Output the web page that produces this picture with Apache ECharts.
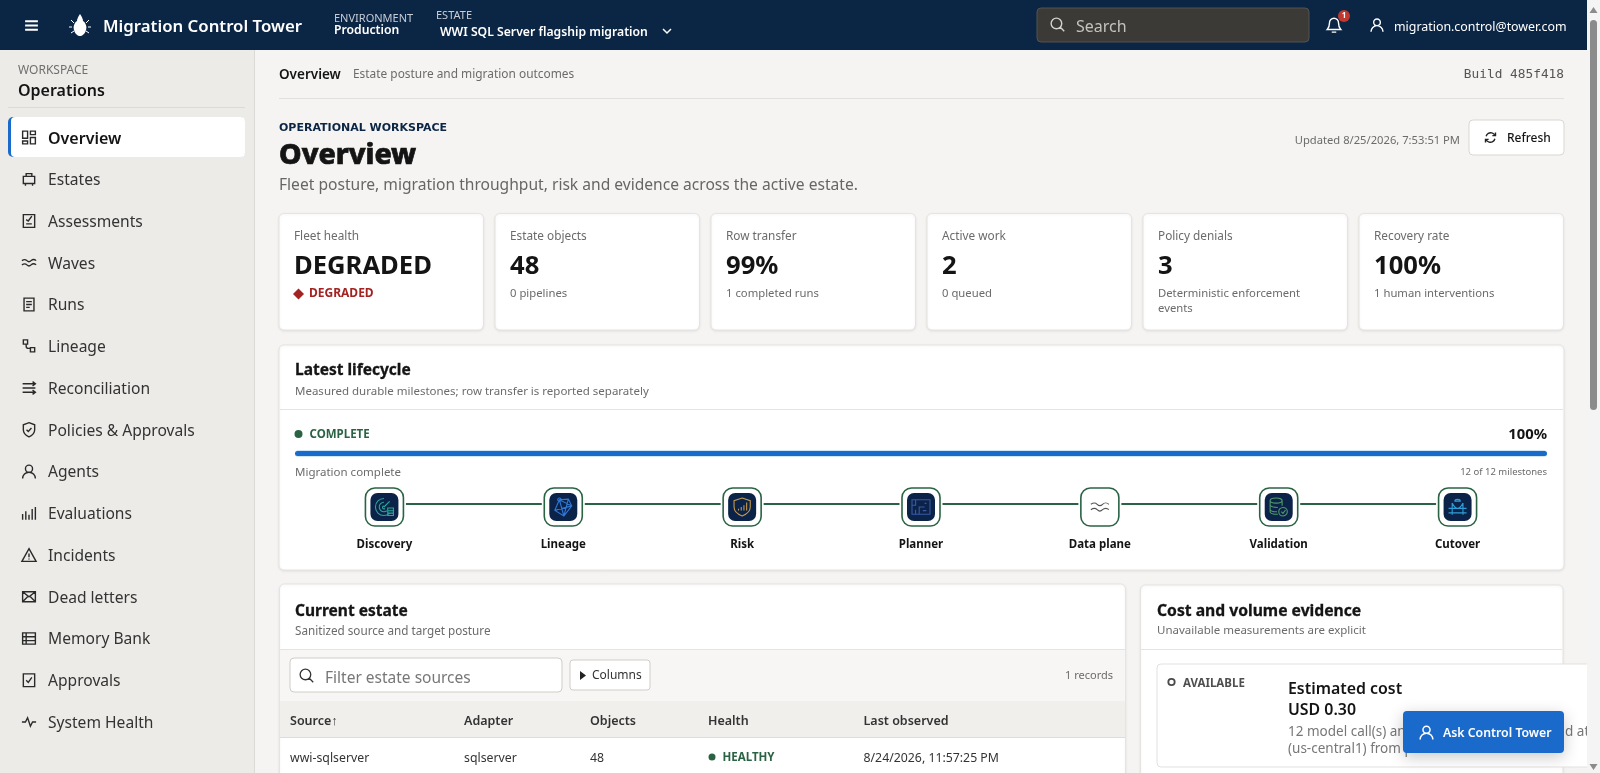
<!DOCTYPE html>
<html>
<head>
<meta charset="utf-8">
<title>Migration Control Tower</title>
<style>
html,body{margin:0;padding:0;background:#f5f4f2;overflow:hidden}
#main{width:1600px;height:773px}
</style>
<script src="https://cdn.jsdelivr.net/npm/echarts@6/dist/echarts.min.js"></script>
</head>
<body>
<div id="main"></div>
<script>
// data
var navItems = ['Overview','Estates','Assessments','Waves','Runs','Lineage','Reconciliation','Policies & Approvals','Agents','Evaluations','Incidents','Dead letters','Memory Bank','Approvals','System Health'];
var kpiLabels = ['Fleet health','Estate objects','Row transfer','Active work','Policy denials','Recovery rate'];
var kpiValues = ['DEGRADED','48','99%','2','3','100%'];
var kpiNotes = ['DEGRADED','0 pipelines','1 completed runs','0 queued','Deterministic enforcement|events','1 human interventions'];
var milestones = ['Discovery','Lineage','Risk','Planner','Data plane','Validation','Cutover'];
var milestoneReached = [1,1,1,1,1,1,1];
var progressPercent = [100];
var tableColumns = ['Source\u2191','Adapter','Objects','Health','Last observed'];
var tableRow = ['wwi-sqlserver','sqlserver','48','HEALTHY','8/24/2026, 11:57:25 PM'];

var FONT = '"Noto Sans"';
var NAVY = '#0b2545', BLUE = '#1a6acb', GREEN = '#2a6344', INK = '#141414', GREY = '#6b6b6b';

// stroke icons, 24 unit box
var icons = {
  menu:'M3 6h18M3 12h18M3 18h18',
  search:'M10.5 3a7.5 7.5 0 1 0 0 15a7.5 7.5 0 1 0 0-15zM16 16l5.5 5.5',
  bell:'M12 3a6 6 0 0 0-6 6c0 6-2 8-3 9h18c-1-1-3-3-3-9a6 6 0 0 0-6-6zM9 21.5h6',
  person:'M12 3a5 5 0 1 0 0 10a5 5 0 1 0 0-10zM3 22c0-5 4-9 9-9s9 4 9 9',
  refresh:'M5 10a7.5 7.5 0 0 1 13-3l2 2M19 14a7.5 7.5 0 0 1-13 3l-2-2M20 4v5h-5M4 20v-5h5',
  Overview:'M3 3h7v10H3zM14 3h7v5h-7zM14 12h7v9h-7zM3 17h7v4H3z',
  Estates:'M4 8h16v10H4zM8 8V4h8v4M7 18v3M17 18v3',
  Assessments:'M4 3h16v18H4zM8 10l3 2l5-7M8 16h8',
  Waves:'M2 9c3-2 5-2 7 0s4 2 6 0s5-2 7 0M2 15c3-2 5-2 7 0s4 2 6 0s5-2 7 0',
  Runs:'M5 3h14v18H5zM8 8h8M8 12h8M8 16h5',
  Lineage:'M4 3h6v6H4zM14 14h6v6h-6zM8 9v3a3 3 0 0 0 3 3h3',
  Reconciliation:'M3 6h18M17 3l4 3l-4 3M3 12h18M3 18h18M17 15l4 3l-4 3',
  'Policies & Approvals':'M12 2l8 3v7c0 5-3.5 8-8 10c-4.5-2-8-5-8-10V5zM8.5 12l2.5 2.5l4.5-5',
  Agents:'M12 3a5 5 0 1 0 0 10a5 5 0 1 0 0-10zM3 22c0-5 4-9 9-9s9 4 9 9',
  Evaluations:'M3 13v8M7.5 9v12M12 14v7M16.5 6v15M21 3v18',
  Incidents:'M12 3L22 21H2zM12 10v5M12 17v1.5',
  'Dead letters':'M3 5h18v14H3zM3 5l9 7l9-7M3 19l7-7M21 19l-7-7',
  'Memory Bank':'M3 4h18v16H3zM3 9.5h18M3 15h18M8 4v16',
  Approvals:'M4 3h16v18H4zM8 12l3 3l5-7',
  'System Health':'M2 12h5l3-6l4 12l3-6h5'
};
var milestoneIcons = [
  {c:'#2aa79b',p:'M12 3a9 9 0 1 0 6 15.7M12 7a5 5 0 1 0 3 9M12 11a1.5 1.5 0 1 0 1 2.6M12 12L18 6M16 13h6v8h-6zM16 16h6M16 18.5h6'},
  {c:'#2f78d6',p:'M9 4a1.5 1.5 0 1 0 .1 0zM17 5L9 5.5L5 15L13 20L20 11zM9 5.5L13 20M5 15L20 11M9 5.5L20 11M17 5L13 20'},
  {c:'#c49a4c',p:'M12 2l9 3v7c0 5-4 8-9 10c-5-2-9-5-9-10V5zM8 16v-2M11 16v-4M14 16v-6M17 16v-9'},
  {c:'#3a5aa5',p:'M2 4h20v16H2zM6 4v6H2M10 20v-8h6M16 8h2M6 15v5M14 16h4'},
  {c:'#555555',p:'M2 9c3-2 5-2 7 0s4 2 6 0s5-2 7 0M2 15c3-2 5-2 7 0s4 2 6 0s5-2 7 0'},
  {c:'#4f9a6a',p:'M3 5c0-4 14-4 14 0s-14 4-14 0zM3 5v13c0 3 6 3 9 3M17 5v6M3 10c0 2.5 6 3 9 3M3 15c0 2.5 5 3 8 3M18 13a5 5 0 1 0 .1 0zM16 18l2 2l3-4'},
  {c:'#2f9ed6',p:'M2 14h20M2 19h20M6 8v13M18 8v13M6 8c2 4 4 6 6 6s4-2 6-6M12 4c-2 0-3 1-3 2h6c0-1-1-2-3-2z'}
];

// graphic helpers
var g = [];
var shapeCount = 0;
function rect(x,y,w,h,fill,r,extra){
  var style = {fill:fill};
  for (var k in (extra||{})) style[k] = extra[k];
  g.push({type:'rect',silent:true,shape:{x:x,y:y,width:w,height:h,r:r||0},style:style});
}
function text(x,y,s,font,fill,align,family,heavy){
  var style = {x:x,y:y,text:s,font:font+' '+(family||FONT),fill:fill,textAlign:align||'left',textVerticalAlign:'middle'};
  if (heavy) { style.stroke = fill; style.lineWidth = heavy; }
  g.push({type:'text',silent:true,style:style});
}
// the graphic component has no plain path type, so each svg path gets registered as a shape
function path(d,style,x,y,sc){
  var name = 'iconPath' + (shapeCount++);
  echarts.graphic.registerShape(name, echarts.graphic.extendPath(d));
  g.push({type:name,silent:true,x:x||0,y:y||0,scaleX:sc||1,scaleY:sc||1,style:style});
}
function icon(name,x,y,size,color,lw){
  var sc = size/24;
  path(icons[name],{fill:'none',stroke:color,lineWidth:(lw||1.5)/sc},x,y,sc);
}
function card(x,y,w,h){
  rect(x,y,w,h,'#ffffff',5,{stroke:'#e6e4e1',lineWidth:1,shadowBlur:3,shadowColor:'rgba(0,0,0,0.07)',shadowOffsetY:1});
}

// page frame
rect(0,0,1600,773,'#f5f4f2');
rect(0,50,254,723,'#edebe8');
rect(254,50,1,723,'#dcdad6');
rect(0,0,1587,50,NAVY);

// top bar
icon('menu',23,17,17,'#ffffff',1.8);
path('M80 14c-2 3-3 5-3 7c-3 2-4 6-3 9c1 4 4 6 6 6s5-2 6-6c1-3 0-7-3-9c0-2-1-4-3-7z',{fill:'#ffffff'});
path('M71 20l3 3M89 20l-3 3M69 27h3M91 27h-3M71 33l3-2M89 33l-3-2',{stroke:'#ffffff',lineWidth:1,fill:'none'});
text(103,27,'Migration Control Tower','600 16.8px','#ffffff');
text(334,19,'ENVIRONMENT','11px','#c6cdd7');
text(334,31,'Production','600 12.2px','#ffffff');
text(436,16,'ESTATE','11px','#c6cdd7');
text(440,33,'WWI SQL Server flagship migration','600 12.2px','#ffffff');
path('M663 29l4 4l4-4',{stroke:'#ffffff',lineWidth:1.5,fill:'none'});
rect(1037,8,272,34,'#3c3a36',4,{stroke:'#55534e',lineWidth:1});
icon('search',1049,16,17,'#d5d3cf',1.4);
text(1076,27,'Search','16px','#c4c2bd');
icon('bell',1325,16,18,'#ffffff',1.4);
g.push({type:'circle',silent:true,shape:{cx:1344,cy:16,r:6},style:{fill:'#c0392f'}});
text(1344,16,'1','bold 8px','#ffffff','center');
icon('person',1369,17,16,'#ffffff',1.4);
text(1394,27,'migration.control@tower.com','12.4px','#ffffff');

// sidebar
text(18,71,'WORKSPACE','12px','#6f6f6f');
text(18,91,'Operations','600 16px',INK);
rect(8,107,237,1,'#dcdad6');
rect(8,117,237,40,BLUE,5);
rect(11,117,234,40,'#ffffff',4);
navItems.forEach(function(name,i){
  var y = 137.5 + i*41.75;
  icon(name,20.5,y-8.5,17,'#2a2a2a',1.4);
  text(48,y+1.5,name,i==0?'600 16px':'400 15.6px',i==0?INK:'#333333');
});

// breadcrumb and page title
text(279,75,'Overview','600 13.5px',INK);
text(353,75,'Estate posture and migration outcomes','11.9px',GREY);
text(1564,75,'Build 485f418','12.8px','#555555','right','"DejaVu Sans Mono"');
rect(279,98,1285,1,'#e2e0dd');
text(279,128,'OPERATIONAL WORKSPACE','bold 11px',NAVY,'left','"DejaVu Sans"');
text(279,156,'Overview','800 28.5px',INK,'left',FONT,0.7);
text(279,186,'Fleet posture, migration throughput, risk and evidence across the active estate.','15.6px','#666666');
text(1460,141,'Updated 8/25/2026, 7:53:51 PM','11.2px',GREY,'right');
rect(1469,120,95,35,'#ffffff',4,{stroke:'#d9d7d3',lineWidth:1});
icon('refresh',1483,130,15,'#222222',1.4);
text(1507,139,'Refresh','500 12px',INK);

// kpi cards
kpiLabels.forEach(function(label,i){
  var x = 279 + i*216;
  card(x,213.5,204.5,116.5);
  text(x+15,237,label,'11.8px',GREY);
  text(x+15,267,kpiValues[i],'bold 25.6px',INK);
  if (i==0) {
    path('M298.5 288.5l5.5 5.5l-5.5 5.5l-5.5-5.5z',{fill:'#a32323'});
    text(309,294,kpiNotes[i],'bold 12px','#a32323');
  } else {
    kpiNotes[i].split('|').forEach(function(line,j){
      text(x+15,294+j*15,line,'11.3px',GREY);
    });
  }
});

// lifecycle card
card(279,345,1285,225);
text(295,370.5,'Latest lifecycle','bold 15.5px',INK,'left',FONT,0.3);
text(295,392,'Measured durable milestones; row transfer is reported separately','11.5px',GREY);
rect(280,409,1283,1,'#e6e4e1');
g.push({type:'circle',silent:true,shape:{cx:298.5,cy:434,r:4},style:{fill:GREEN}});
text(309.5,435,'COMPLETE','bold 11.5px',GREEN);
text(1547,435,progressPercent[0]+'%','bold 14.8px',INK,'right');
rect(295,450,1252,7,'#cfe6f8',3.5);
text(295,473,'Migration complete','11.5px',GREY);
text(1547,472,'12 of 12 milestones','9.5px',GREY,'right');

// current estate card
card(279.5,584,846,200);
text(295,612,'Current estate','bold 15.5px',INK,'left',FONT,0.3);
text(295,632,'Sanitized source and target posture','11.7px',GREY);
rect(280,649,845,52,'#f7f6f4');
rect(280,649,845,1,'#e6e4e1');
rect(290,658,272,34,'#ffffff',4,{stroke:'#cfcdc9',lineWidth:1});
icon('search',298,667,17,'#333333',1.3);
text(325,679,'Filter estate sources','15.5px','#777777');
rect(570,660,80,30,'#ffffff',3,{stroke:'#cfcdc9',lineWidth:1});
path('M580 671v9l6-4.5z',{fill:'#222222'});
text(592,676,'Columns','12px','#333333');
text(1113,676,'1 records','11px',GREY,'right');
rect(280,701,845,37,'#f0efec');
rect(280,737,845,1,'#dedcd8');
var colX = [290,464,590,708,863.5];
tableColumns.forEach(function(c,i){
  text(colX[i],721,c,'600 12.5px','#333333');
});
tableRow.forEach(function(c,i){
  if (i==3) {
    g.push({type:'circle',silent:true,shape:{cx:712,cy:757,r:3.5},style:{fill:GREEN}});
    text(722.5,758,c,'bold 11.5px',GREEN);
  } else {
    text(colX[i],758,c,'12.3px','#333333');
  }
});

// cost card, the row is cut by the floating button and the scrollbar
card(1140.5,585,422.5,200);
text(1157,611.5,'Cost and volume evidence','bold 15.7px',INK,'left',FONT,0.3);
text(1157,631,'Unavailable measurements are explicit','11.5px',GREY);
rect(1141,649,421,1,'#e6e4e1');
rect(1157,664,440,103,'#ffffff',4,{stroke:'#e3e1de',lineWidth:1});
g.push({type:'circle',silent:true,shape:{cx:1171.5,cy:682,r:3.2},style:{fill:'none',stroke:'#4a4a4a',lineWidth:1.8}});
text(1183,684,'AVAILABLE','bold 11.5px','#4f4f4f');
text(1288,689,'Estimated cost','600 15.9px',INK);
text(1288,710,'USD 0.30','600 15.9px',INK);
text(1288,732,'12 model call(s) an','13.5px','#777777');
text(1288,749,'(us-central1) from p','13.5px','#777777');
text(1565,732,'d at','13.5px','#777777');

// floating button
rect(1403,711,161,42,BLUE,4,{shadowBlur:16,shadowColor:'rgba(0,0,0,0.22)',shadowOffsetY:4});
icon('person',1418,724,17,'#ffffff',1.5);
text(1443,733,'Ask Control Tower','600 12.3px','#ffffff');

// scrollbar
rect(1587,0,13,773,'#f4f4f4');
rect(1590,20,7,390,'#8b8b8b',3.5);
path('M1593.5 7l4 6h-8zM1593.5 770l4-6h-8z',{fill:'#8b8b8b'});

var myChart = echarts.init(document.getElementById('main'));
var option = {
  animation: false,
  backgroundColor: '#f5f4f2',
  graphic: {elements: g},
  grid: [
    {left:295, top:451, width:1252, height:5},
    {left:295, top:488, width:1252, height:38},
    {left:295, top:484, width:1252, height:40}
  ],
  xAxis: [
    {gridIndex:0, type:'value', min:0, max:100, show:false},
    {gridIndex:1, type:'category', data:milestones, axisLine:{show:false}, axisTick:{show:false},
      axisLabel:{margin:13, color:INK, fontFamily:FONT, fontWeight:'bold', fontSize:11.5}},
    {gridIndex:2, type:'category', data:milestones, show:false}
  ],
  yAxis: [
    {gridIndex:0, type:'category', data:['progress'], show:false},
    {gridIndex:1, type:'value', min:0, max:2, show:false},
    {gridIndex:2, type:'value', min:0, max:2, show:false}
  ],
  series: [
    {type:'bar', xAxisIndex:0, yAxisIndex:0, data:progressPercent, barWidth:5, silent:true,
      itemStyle:{color:BLUE, borderRadius:2.5}},
    // connector between milestones
    {type:'line', xAxisIndex:2, yAxisIndex:2, data:milestoneReached, symbol:'none', silent:true, z:2,
      lineStyle:{color:GREEN, width:2}},
    // white halo keeps a gap between the connector and the node
    {type:'scatter', xAxisIndex:1, yAxisIndex:1, data:milestoneReached, symbol:'rect', symbolSize:[43,42], silent:true, z:3,
      itemStyle:{color:'#ffffff', opacity:1}},
    {type:'scatter', xAxisIndex:1, yAxisIndex:1, data:milestoneReached, symbol:'roundRect', symbolSize:[38,38], silent:true, z:4,
      itemStyle:{color:'#ffffff', borderColor:GREEN, borderWidth:1.6, opacity:1}},
    {type:'scatter', xAxisIndex:1, yAxisIndex:1, silent:true, z:5, symbol:'roundRect', symbolSize:28,
      data:milestoneReached.map(function(v,i){
        return {value:v, itemStyle:{color: milestones[i]=='Data plane' ? '#ffffff' : '#0c2349', opacity:1}};
      })},
    {type:'scatter', xAxisIndex:1, yAxisIndex:1, silent:true, z:6, symbolSize:18, symbolKeepAspect:true,
      data:milestoneReached.map(function(v,i){
        return {value:v, symbol:'path://'+milestoneIcons[i].p,
          itemStyle:{color:'transparent', borderColor:milestoneIcons[i].c, borderWidth:1.1, opacity:1}};
      })}
  ]
};
myChart.setOption(option);
</script>
</body>
</html>
